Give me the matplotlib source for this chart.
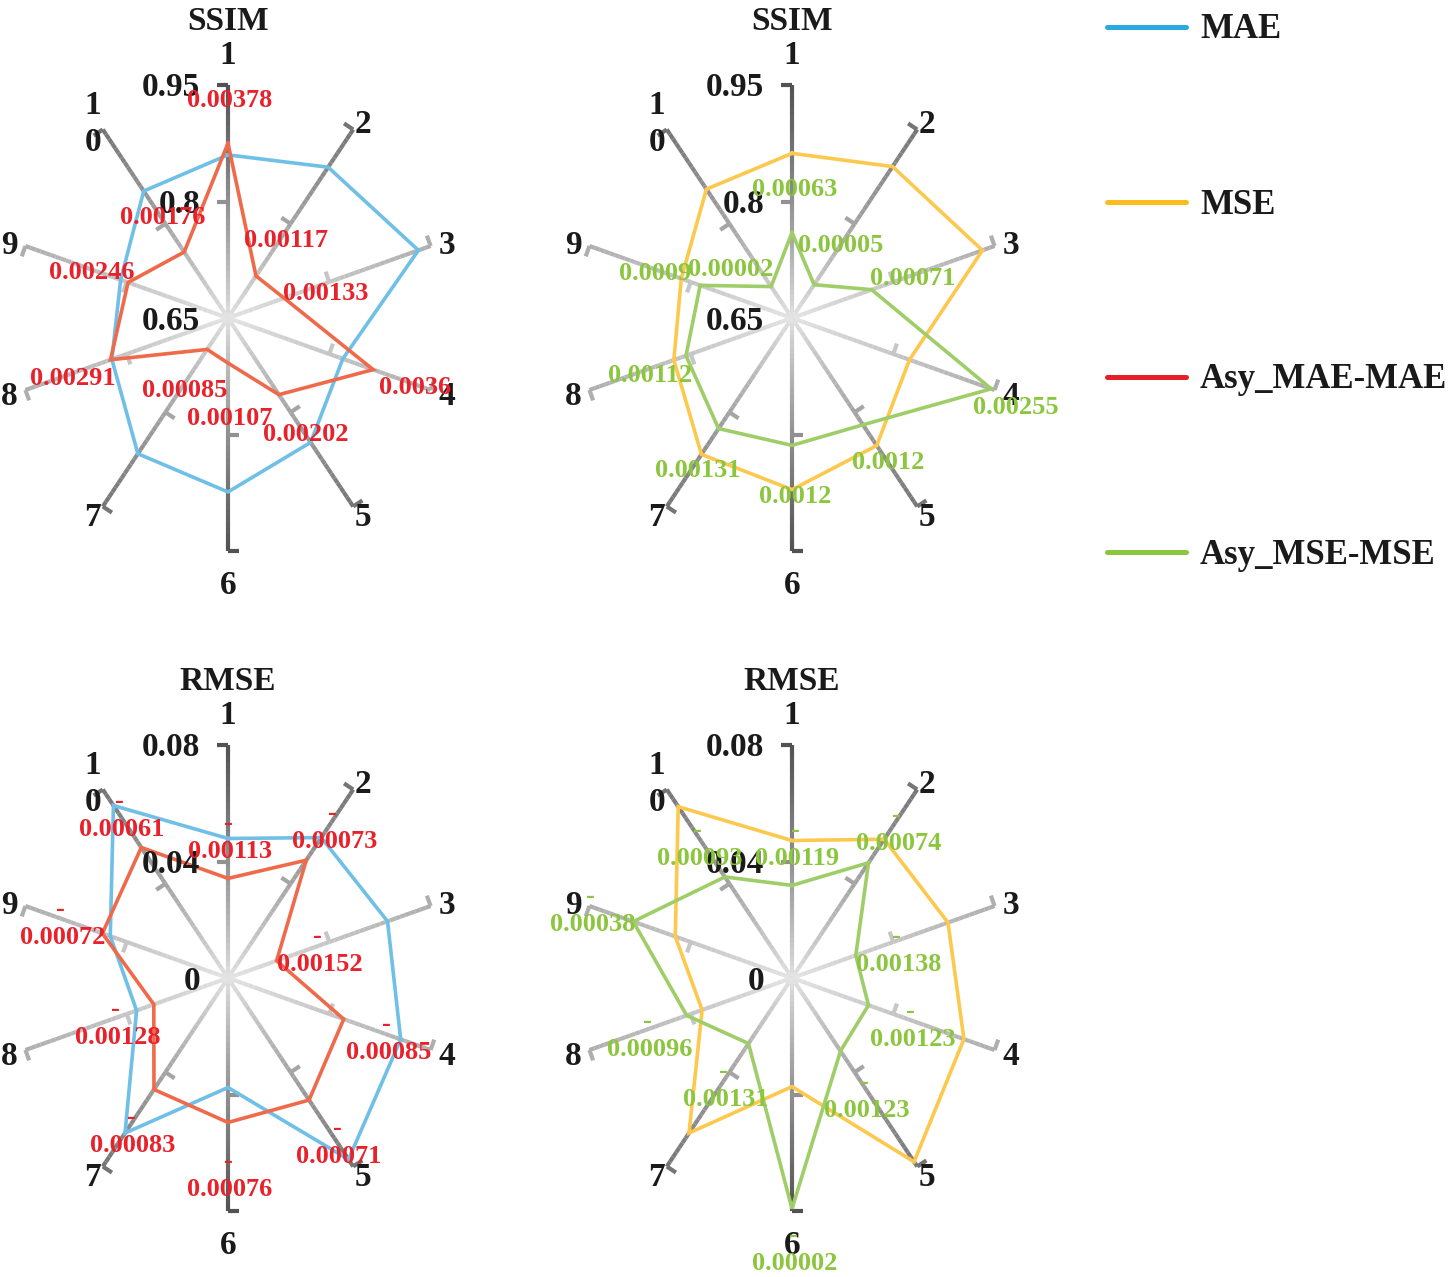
import numpy as np
import matplotlib
matplotlib.use("Agg")
import matplotlib.pyplot as plt
from matplotlib.collections import LineCollection

plt.rcParams['font.family'] = ['Liberation Serif', 'DejaVu Serif']
plt.rcParams['font.weight'] = 'bold'

# --- data ---
spokes = ["1", "2", "3", "4", "5", "6", "7", "8", "9", "1\n0"]

# SSIM panels, radial axis 0.65 -> 0.95
ssim_ticks = [0.65, 0.8, 0.95]
ssim_mae = [0.860, 0.890, 0.932, 0.820, 0.848, 0.874, 0.866, 0.822, 0.809, 0.852]
ssim_asy_mae = [0.875, 0.717, 0.733, 0.865, 0.772, 0.708, 0.700, 0.824, 0.798, 0.755]
ssim_mse = [0.862, 0.891, 0.932, 0.824, 0.853, 0.871, 0.867, 0.825, 0.814, 0.855]
ssim_asy_mse = [0.760, 0.703, 0.768, 0.945, 0.820, 0.814, 0.826, 0.807, 0.786, 0.700]
ssim_mae_diff = ["0.00378", "0.00117", "0.00133", "0.0036", "0.00202",
                 "0.00107", "0.00085", "0.00291", "0.00246", "0.00176"]
ssim_mse_diff = ["0.00063", "0.00005", "0.00071", "0.00255", "0.0012",
                 "0.0012", "0.00131", "0.00112", "0.0009", "0.00002"]

# RMSE panels, radial axis 0 -> 0.08
rmse_ticks = [0, 0.04, 0.08]
rmse_mae = [0.0479, 0.0596, 0.0630, 0.0682, 0.0770, 0.0376, 0.0658, 0.0361, 0.0465, 0.0732]
rmse_asy_mae = [0.0342, 0.0500, 0.0192, 0.0457, 0.0518, 0.0496, 0.0473, 0.0293, 0.0496, 0.0554]
rmse_mse = [0.0472, 0.0589, 0.0616, 0.0679, 0.0780, 0.0373, 0.0658, 0.0355, 0.0461, 0.0727]
rmse_asy_mse = [0.0318, 0.0489, 0.0252, 0.0302, 0.0310, 0.0792, 0.0278, 0.0416, 0.0627, 0.0429]
rmse_mae_diff = ["-0.00113", "-0.00073", "-0.00152", "-0.00085", "-0.00071",
                 "-0.00076", "-0.00083", "-0.00128", "-0.00072", "-0.00061"]
rmse_mse_diff = ["-0.00119", "-0.00074", "-0.00138", "-0.00123", "-0.00123",
                 "-0.00002", "-0.00131", "-0.00096", "-0.00038", "-0.00093"]

series_names = ["MAE", "MSE", "Asy_MAE-MAE", "Asy_MSE-MSE"]

# --- styling ---
line_col = {"MAE": "#70bfe6", "MSE": "#fdc84e", "Asy_MAE-MAE": "#ef6a4a", "Asy_MSE-MSE": "#9fcd68"}
leg_col = {"MAE": "#29abe2", "MSE": "#fbbd1d", "Asy_MAE-MAE": "#e61e27", "Asy_MSE-MSE": "#8cc63f"}
lab_col = {"Asy_MAE-MAE": "#e8212a", "Asy_MSE-MSE": "#8cc63f"}

RX, RY = 213, 233          # spoke lengths in px (chart is slightly squashed)
W, H = 1454, 1277
DY = 3                     # text nudge: va='center' sits a bit high

# label offsets (px, y down) from each vertex
off_ssim_mae = [(2, -46), (30, -38), (42, -8), (42, 15), (27, 37), (2, 52), (-22, 38), (-38, 16), (-36, -13), (-21, -38)]
off_ssim_mse = [(3, -46), (27, -42), (41, -14), (25, 16), (25, 35), (3, 48), (-21, 39), (-36, 17), (-45, -15), (-40, -20)]
off_rmse_mae = [(2, -30), (28, -22), (43, 1), (45, 30), (30, 53), (2, 64), (-21, 53), (-36, 30), (-40, 1), (-20, -21)]
off_rmse_mse = [(5, -30), (30, -22), (43, 6), (44, 31), (26, 56), (3, 52), (-23, 53), (-37, 31), (-41, 0), (-25, -21)]

fig = plt.figure(figsize=(W / 100, H / 100), dpi=100)
ax = fig.add_axes([0, 0, 1, 1])
ax.set_xlim(0, W)
ax.set_ylim(H, 0)
ax.axis('off')

ang = np.deg2rad(np.arange(10) * 36.0)
sx, sy = np.sin(ang), -np.cos(ang)


def to_px(cx, cy, r, k):
    return cx + RX * r * sx[k], cy + RY * r * sy[k]


def draw_frame(cx, cy, title, ticks):
    segs, cols = [], []
    n = 40
    for k in range(10):
        elev = abs(np.cos(ang[k]))
        c_end = 0.72 - 0.40 * elev ** 2
        c0 = 0.90
        for i in range(n):
            t0, t1 = i / n, (i + 1) / n
            segs.append([to_px(cx, cy, t0, k), to_px(cx, cy, t1, k)])
            g = c0 + (c_end - c0) * ((t0 + t1) / 2) ** 0.8
            cols.append((g, g, g))
        # tick marks at mid and end, pointing counter-clockwise
        dx, dy = RX * sx[k], RY * sy[k]
        L = np.hypot(dx, dy)
        px, py = dy / L, -dx / L
        for t in (0.5, 1.0):
            x0, y0 = to_px(cx, cy, t, k)
            g = c0 + (c_end - c0) * t ** 0.8
            segs.append([(x0, y0), (x0 + 11 * px, y0 + 11 * py)])
            cols.append((g, g, g))
    ax.add_collection(LineCollection(segs, colors=cols, linewidths=3.0,
                                     capstyle='butt', zorder=1))
    # category labels
    for k, lab in enumerate(spokes):
        if k in (0, 5):
            lx, ly = cx, cy + 265 * sy[k]
        else:
            lx, ly = cx + 230 * sx[k], cy + 243 * sy[k]
        ax.text(lx, ly + DY, lab, fontsize=24, ha='center', va='center',
                linespacing=1.25, color='#1a1a1a', zorder=5)
    # radial tick labels along spoke 1
    for i, tv in enumerate(ticks):
        lab = f"{tv:g}"
        ax.text(cx - 28, cy - RY * i / 2 + DY, lab, fontsize=24, ha='right',
                va='center', color='#1a1a1a', zorder=5)
    ax.text(cx, cy - 300 + DY, title, fontsize=24, ha='center', va='center',
            color='#1a1a1a', zorder=5)


def draw_series(cx, cy, vals, lo, hi, name):
    r = (np.array(vals) - lo) / (hi - lo)
    xs = [to_px(cx, cy, r[k], k)[0] for k in range(10)]
    ys = [to_px(cx, cy, r[k], k)[1] for k in range(10)]
    ax.plot(xs + xs[:1], ys + ys[:1], color=line_col[name], lw=2.6,
            solid_joinstyle='miter', zorder=3)
    return xs, ys


def draw_labels(xs, ys, labels, offs, name):
    for x, y, lab, (ox, oy) in zip(xs, ys, labels, offs):
        if lab.startswith("-"):
            ax.text(x + ox - 2, y + oy - 28 + DY, "-", fontsize=19, ha='center',
                    va='center', color=lab_col[name], zorder=6)
            lab = lab[1:]
        ax.text(x + ox, y + oy + DY, lab, fontsize=19, ha='center', va='center',
                color=lab_col[name], zorder=6)


panels = [
    (228, 318, "SSIM", ssim_ticks, [("MAE", ssim_mae), ("Asy_MAE-MAE", ssim_asy_mae)], ssim_mae_diff, off_ssim_mae),
    (792, 318, "SSIM", ssim_ticks, [("MSE", ssim_mse), ("Asy_MSE-MSE", ssim_asy_mse)], ssim_mse_diff, off_ssim_mse),
    (228, 978, "RMSE", rmse_ticks, [("MAE", rmse_mae), ("Asy_MAE-MAE", rmse_asy_mae)], rmse_mae_diff, off_rmse_mae),
    (792, 978, "RMSE", rmse_ticks, [("MSE", rmse_mse), ("Asy_MSE-MSE", rmse_asy_mse)], rmse_mse_diff, off_rmse_mse),
]

for cx, cy, title, ticks, series, diffs, offs in panels:
    draw_frame(cx, cy, title, ticks)
    lo, hi = ticks[0], ticks[-1]
    for name, vals in series:
        xs, ys = draw_series(cx, cy, vals, lo, hi, name)
    draw_labels(xs, ys, diffs, offs, series[-1][0])

# legend
for i, name in enumerate(series_names):
    y = 27 + i * 175
    ax.plot([1107, 1186], [y, y], color=leg_col[name], lw=3.6,
            solid_capstyle='round')
    ax.text(1200, y + DY, name, fontsize=25, ha='left', va='center', color='#1a1a1a')

fig.savefig("out.png", dpi=100)
